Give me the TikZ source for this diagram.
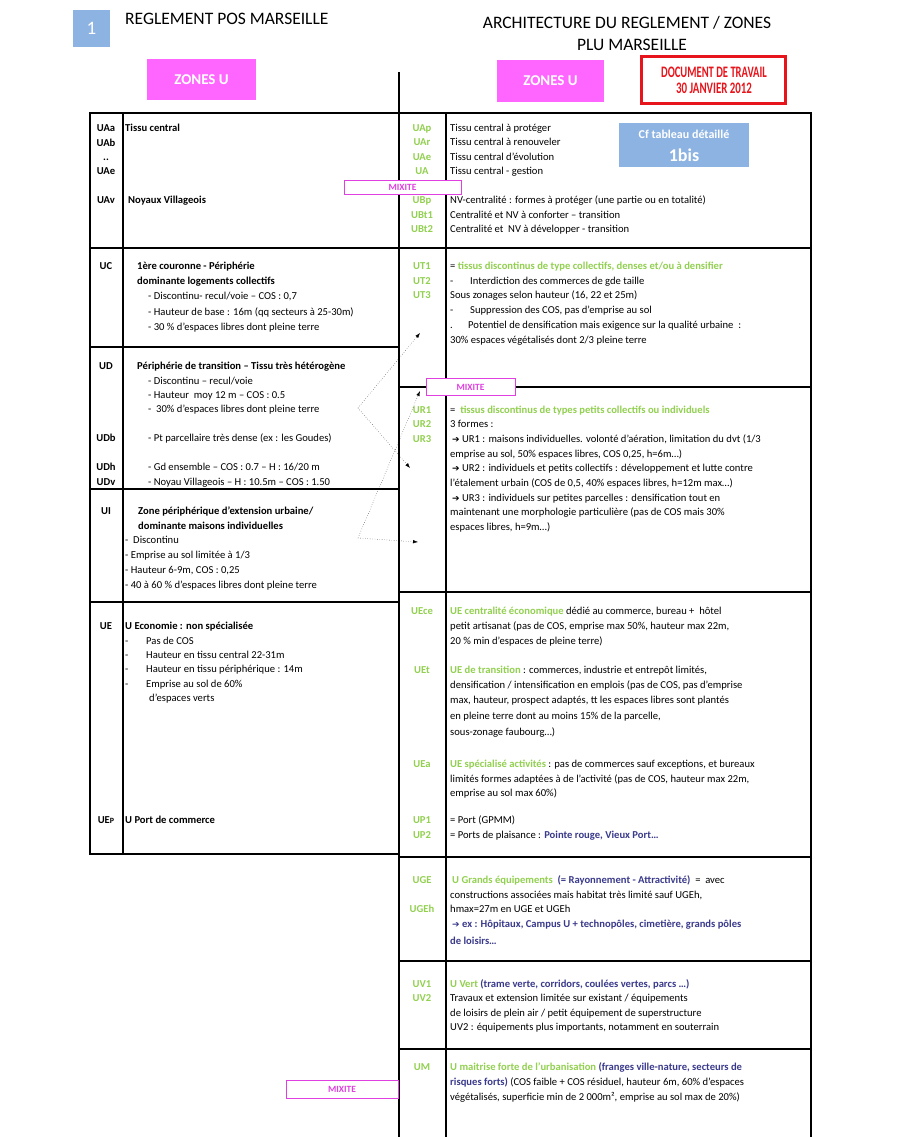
\documentclass[tikz,border=0pt]{standalone}
\usepackage{fontspec}
\setmainfont{Carlito}
\newfontfamily\arrowfont{DejaVu Sans}
\usetikzlibrary{arrows.meta, positioning}
\definecolor{zoneGreen}{HTML}{92D050}
\definecolor{zoneBlue}{HTML}{3A3A8C}
\definecolor{zonePink}{HTML}{FF66FF}
\definecolor{mixMagenta}{HTML}{E040E0}
\definecolor{tabBlue}{HTML}{8DB3E2}
\definecolor{workRed}{HTML}{E8141B}
\newcommand{\arr}{{\arrowfont\fontsize{9}{10}\selectfont ➔}}

\begin{document}
\begin{tikzpicture}[
    x=1pt, y=-1pt,
    every node/.style={font=\fontsize{10.6}{12}\selectfont},
    txt/.style={anchor=mid west, inner sep=0pt},
    btxt/.style={txt, font=\fontsize{10.6}{12}\selectfont\bfseries},
    code/.style={anchor=mid, inner sep=0pt, font=\fontsize{10.6}{12}\selectfont\bfseries},
    rcode/.style={code, text=zoneGreen},
    rule/.style={line width=2.4pt, line cap=rect},
    zonebox/.style={fill=zonePink, text=white, font=\fontsize{15}{16}\selectfont\bfseries},
    mixite/.style={draw=mixMagenta, fill=white, text=mixMagenta, line width=0.9pt,
      font=\fontsize{9.5}{10}\selectfont\bfseries, inner sep=0pt},
    hint/.style={dotted, thin, -{Latex[length=5pt, width=3.5pt]}},
    head/.style={font=\fontsize{17.5}{18}\selectfont}
  ]
  \useasboundingbox (0,0) rectangle (913,1137);
  \fill[white] (0,0) rectangle (913,1137);

  % ── Header ──────────────────────────────────────────────────────────────
  \node[fill=tabBlue, text=white, minimum width=37pt, minimum height=37pt,
    font=\fontsize{19}{20}\selectfont] (num) at (91.5,28.5) {1};
  \node[head, anchor=mid west, inner sep=0pt] (posTitle) at (125,22) {REGLEMENT POS MARSEILLE};
  \node[head, inner sep=0pt] (pluTitle) at (627,23) {ARCHITECTURE DU REGLEMENT / ZONES};
  \node[head, inner sep=0pt] (pluSub) at (632,45) {PLU MARSEILLE};
  \node[zonebox, minimum width=109pt, minimum height=41pt] (zonesPos) at (201.5,79.5) {ZONES U};
  \node[zonebox, minimum width=107pt, minimum height=42pt] (zonesPlu) at (550.5,81) {ZONES U};
  \node[draw=workRed, line width=3pt, minimum width=144pt, minimum height=47pt] (work) at (713.5,80) {};
  \node[text=workRed, inner sep=0pt, font=\fontsize{16}{16}\selectfont\bfseries] (workA) at (714,72)
    {\scalebox{0.66}[1]{DOCUMENT DE TRAVAIL}};
  \node[text=workRed, inner sep=0pt, font=\fontsize{16}{16}\selectfont\bfseries] (workB) at (714,88)
    {\scalebox{0.68}[1]{30 JANVIER 2012}};

  % ── Table lines ─────────────────────────────────────────────────────────
  \draw[line width=1.4pt] (399,72) -- (399,113);
  % POS (left)
  \draw[rule] (90,113) -- (90,854);
  \draw[rule] (123,113) -- (123,854);
  \foreach \y in {113, 248, 347, 489, 602, 854}
    \draw[rule] (90,\y) -- (399,\y);
  % PLU (right)
  \draw[rule] (399,113) -- (399,1137);
  \draw[rule] (446,113) -- (446,1137);
  \draw[rule] (811,113) -- (811,1137);
  \foreach \y in {113, 248, 387, 592, 857, 961, 1049}
    \draw[rule] (399,\y) -- (811,\y);

  % ── POS : UA ────────────────────────────────────────────────────────────
  \node[code] (lUAa) at (106,129) {UAa};
  \node[code] (lUAb) at (106,144) {UAb};
  \node[code] (lDots) at (106,158) {..};
  \node[code] (lUAe) at (106,172) {UAe};
  \node[code] (lUAv) at (106,201) {UAv};
  \node[btxt] (lUAaT) at (125,129) {Tissu central};
  \node[btxt] (lUAvT) at (128,201) {Noyaux Villageois};

  % ── POS : UC ────────────────────────────────────────────────────────────
  \node[code] (lUC) at (106,267) {UC};
  \node[btxt] (lUCT) at (137,267) {1ère couronne - Périphérie};
  \node[btxt] (lUC1) at (137,282) {dominante logements collectifs};
  \node[txt] (lUC2) at (148,297) {- Discontinu- recul/voie – COS : 0,7};
  \node[txt] (lUC3) at (148,313) {- Hauteur de base : 16m (qq secteurs à 25-30m)};
  \node[txt] (lUC4) at (148,328) {- 30 \% d’espaces libres dont pleine terre};

  % ── POS : UD ────────────────────────────────────────────────────────────
  \node[code] (lUD) at (106,367) {UD};
  \node[btxt] (lUDT) at (137,367) {Périphérie de transition – Tissu très hétérogène};
  \node[txt] (lUD1) at (148,382) {- Discontinu – recul/voie};
  \node[txt] (lUD2) at (148,396) {- Hauteur \ moy 12 m – COS : 0.5};
  \node[txt] (lUD3) at (148,410) {- \ 30\% d’espaces libres dont pleine terre};
  \node[code] (lUDb) at (106,439) {UDb};
  \node[txt] (lUDbT) at (148,439) {- Pt parcellaire très dense (ex : les Goudes)};
  \node[code] (lUDh) at (106,468) {UDh};
  \node[txt] (lUDhT) at (148,468) {- Gd ensemble – COS : 0.7 – H : 16/20 m};
  \node[code] (lUDv) at (106,483) {UDv};
  \node[txt] (lUDvT) at (148,483) {- Noyau Villageois – H : 10.5m – COS : 1.50};

  % ── POS : UI ────────────────────────────────────────────────────────────
  \node[code] (lUI) at (106,512) {UI};
  \node[btxt] (lUIT) at (138,512) {Zone périphérique d’extension urbaine/};
  \node[btxt] (lUI1) at (138,527) {dominante maisons individuelles};
  \node[txt] (lUI2) at (125,541) {- \ Discontinu};
  \node[txt] (lUI3) at (125,556) {- Emprise au sol limitée à 1/3};
  \node[txt] (lUI4) at (125,571) {- Hauteur 6-9m, COS : 0,25};
  \node[txt] (lUI5) at (125,586) {- 40 à 60 \% d’espaces libres dont pleine terre};

  % ── POS : UE ────────────────────────────────────────────────────────────
  \node[code] (lUE) at (106,627) {UE};
  \node[btxt] (lUET) at (125,627) {U Economie : non spécialisée};
  \node[txt] (lUE1d) at (125,642) {-};
  \node[txt] (lUE1) at (146,642) {Pas de COS};
  \node[txt] (lUE2d) at (125,656) {-};
  \node[txt] (lUE2) at (146,656) {Hauteur en tissu central 22-31m};
  \node[txt] (lUE3d) at (125,670) {-};
  \node[txt] (lUE3) at (146,670) {Hauteur en tissu périphérique : 14m};
  \node[txt] (lUE4d) at (125,685) {-};
  \node[txt] (lUE4) at (146,685) {Emprise au sol de 60\%};
  \node[txt] (lUE5) at (149,699) {d’espaces verts};
  \node[code] (lUEp) at (106,821) {UE{\fontsize{8}{9}\selectfont P}};
  \node[btxt] (lUEpT) at (125,821) {U Port de commerce};

  % ── PLU : UA / UB ───────────────────────────────────────────────────────
  \node[rcode] (rUAp) at (422,129) {UAp};
  \node[rcode] (rUAr) at (422,143) {UAr};
  \node[rcode] (rUAe) at (422,158) {UAe};
  \node[rcode] (rUA) at (422,172) {UA};
  \node[rcode] (rUBp) at (422,201) {UBp};
  \node[rcode] (rUBt1) at (422,216) {UBt1};
  \node[rcode] (rUBt2) at (422,230) {UBt2};
  \node[txt] (rUApT) at (450,129) {Tissu central à protéger};
  \node[txt] (rUArT) at (450,143) {Tissu central à renouveler};
  \node[txt] (rUAeT) at (450,158) {Tissu central d’évolution};
  \node[txt] (rUAT) at (450,172) {Tissu central - gestion};
  \node[txt] (rUBpT) at (450,201) {NV-centralité : formes à protéger (une partie ou en totalité)};
  \node[txt] (rUBt1T) at (450,216) {Centralité et NV à conforter – transition};
  \node[txt] (rUBt2T) at (450,230) {Centralité et \ NV à développer - transition};
  \node[fill=tabBlue, text=white, minimum width=130pt, minimum height=44pt] (cf) at (684,145) {};
  \node[text=white, inner sep=0pt, font=\fontsize{12}{13}\selectfont\bfseries] (cfA) at (684,134) {Cf tableau détaillé};
  \node[text=white, inner sep=0pt, font=\fontsize{18}{18}\selectfont\bfseries] (cfB) at (684,155) {1bis};

  % ── PLU : UT ────────────────────────────────────────────────────────────
  \node[rcode] (rUT1) at (422,267) {UT1};
  \node[rcode] (rUT2) at (422,282) {UT2};
  \node[rcode] (rUT3) at (422,296) {UT3};
  \node[txt] (rUT1T) at (450,267) {= \textcolor{zoneGreen}{\bfseries tissus discontinus de type collectifs, denses et/ou à densifier}};
  \node[txt] (rUT2d) at (450,282) {-};
  \node[txt] (rUT2T) at (470,282) {Interdiction des commerces de gde taille};
  \node[txt] (rUT3T) at (450,296) {Sous zonages selon hauteur (16, 22 et 25m)};
  \node[txt] (rUT4d) at (450,311) {-};
  \node[txt] (rUT4) at (470,311) {Suppression des COS, pas d’emprise au sol};
  \node[txt] (rUT5d) at (450,326) {.};
  \node[txt] (rUT5) at (468,326) {Potentiel de densification mais exigence sur la qualité urbaine \ :};
  \node[txt] (rUT6) at (450,341) {30\% espaces végétalisés dont 2/3 pleine terre};

  % ── PLU : UR ────────────────────────────────────────────────────────────
  \node[rcode] (rUR1) at (422,411) {UR1};
  \node[rcode] (rUR2) at (422,425) {UR2};
  \node[rcode] (rUR3) at (422,440) {UR3};
  \node[txt] (rUR1T) at (450,411) {= \ \textcolor{zoneGreen}{\bfseries tissus discontinus de types petits collectifs ou individuels}};
  \node[txt] (rUR2T) at (450,425) {3 formes :};
  \node[txt] (rUR3T) at (452,440) {\arr\ UR1 : maisons individuelles. volonté d’aération, limitation du dvt (1/3};
  \node[txt] (rUR4) at (450,455) {emprise au sol, 50\% espaces libres, COS 0,25, h=6m…)};
  \node[txt] (rUR5) at (452,469) {\arr\ UR2 : individuels et petits collectifs : développement et lutte contre};
  \node[txt] (rUR6) at (450,484) {l'étalement urbain (COS de 0,5, 40\% espaces libres, h=12m max…)};
  \node[txt] (rUR7) at (452,499) {\arr\ UR3 : individuels sur petites parcelles : densification tout en};
  \node[txt] (rUR8) at (450,513) {maintenant une morphologie particulière (pas de COS mais 30\%};
  \node[txt] (rUR9) at (450,528) {espaces libres, h=9m…)};

  % ── PLU : UE / UP ───────────────────────────────────────────────────────
  \node[rcode] (rUEce) at (422,612) {UEce};
  \node[txt] (rUEceT) at (450,612) {\textcolor{zoneGreen}{\bfseries UE centralité économique} dédié au commerce, bureau + \ hôtel};
  \node[txt] (rUEce1) at (450,627) {petit artisanat (pas de COS, emprise max 50\%, hauteur max 22m,};
  \node[txt] (rUEce2) at (450,642) {20 \% min d’espaces de pleine terre)};
  \node[rcode] (rUEt) at (422,671) {UEt};
  \node[txt] (rUEtT) at (450,671) {\textcolor{zoneGreen}{\bfseries UE de transition} : commerces, industrie et entrepôt limités,};
  \node[txt] (rUEt1) at (450,686) {densification / intensification en emplois (pas de COS, pas d’emprise};
  \node[txt] (rUEt2) at (450,701) {max, hauteur, prospect adaptés, tt les espaces libres sont plantés};
  \node[txt] (rUEt3) at (450,717) {en pleine terre dont au moins 15\% de la parcelle,};
  \node[txt] (rUEt4) at (450,733) {sous-zonage faubourg…)};
  \node[rcode] (rUEa) at (422,765) {UEa};
  \node[txt] (rUEaT) at (450,765) {\textcolor{zoneGreen}{\bfseries UE spécialisé activités} : pas de commerces sauf exceptions, et bureaux};
  \node[txt] (rUEa1) at (450,780) {limités formes adaptées à de l’activité (pas de COS, hauteur max 22m,};
  \node[txt] (rUEa2) at (450,794) {emprise au sol max 60\%)};
  \node[rcode] (rUP1) at (422,821) {UP1};
  \node[rcode] (rUP2) at (422,836) {UP2};
  \node[txt] (rUP1T) at (450,821) {= Port (GPMM)};
  \node[txt] (rUP2T) at (450,836) {= Ports de plaisance : \textcolor{zoneBlue}{\bfseries Pointe rouge, Vieux Port…}};

  % ── PLU : UGE ───────────────────────────────────────────────────────────
  \node[rcode] (rUGE) at (422,881) {UGE};
  \node[rcode] (rUGEh) at (422,910) {UGEh};
  \node[txt] (rUGET) at (452,881) {\textcolor{zoneGreen}{\bfseries U Grands équipements} \ \textcolor{zoneBlue}{\bfseries (= Rayonnement - Attractivité)} \ = \ avec};
  \node[txt] (rUGE1) at (450,896) {constructions associées mais habitat très limité sauf UGEh,};
  \node[txt] (rUGE2) at (450,910) {hmax=27m en UGE et UGEh};
  \node[txt, text=zoneBlue] (rUGE3) at (452,925) {\arr\ \bfseries ex : Hôpitaux, Campus U + technopôles, cimetière, grands pôles};
  \node[btxt, text=zoneBlue] (rUGE4) at (450,942) {de loisirs…};

  % ── PLU : UV ────────────────────────────────────────────────────────────
  \node[rcode] (rUV1) at (422,985) {UV1};
  \node[rcode] (rUV2) at (422,999) {UV2};
  \node[txt] (rUV1T) at (450,985) {\textcolor{zoneGreen}{\bfseries U Vert} \textcolor{zoneBlue}{\bfseries (trame verte, corridors, coulées vertes, parcs …)}};
  \node[txt] (rUV2T) at (450,999) {Travaux et extension limitée sur existant / équipements};
  \node[txt] (rUV3) at (450,1014) {de loisirs de plein air / petit équipement de superstructure};
  \node[txt] (rUV4) at (450,1028) {UV2 : équipements plus importants, notamment en souterrain};

  % ── PLU : UM ────────────────────────────────────────────────────────────
  \node[rcode] (rUM) at (422,1068) {UM};
  \node[txt] (rUMT) at (450,1068) {\textcolor{zoneGreen}{\bfseries U maitrise forte de l'urbanisation} \textcolor{zoneBlue}{\bfseries (franges ville-nature, secteurs de}};
  \node[txt] (rUM1) at (450,1083) {\textcolor{zoneBlue}{\bfseries risques forts)} (COS faible + COS résiduel, hauteur 6m, 60\% d'espaces};
  \node[txt] (rUM2) at (450,1098) {végétalisés, superficie min de 2 000m², emprise au sol max de 20\%)};

  % ── MIXITE tags ─────────────────────────────────────────────────────────
  \node[mixite, minimum width=117pt, minimum height=14pt] (mixA) at (402.5,187) {MIXITE};
  \node[mixite, minimum width=89pt, minimum height=17pt] (mixB) at (470.5,387) {MIXITE};
  \node[mixite, minimum width=112pt, minimum height=18pt] (mixC) at (342,1089) {MIXITE};

  % ── Dotted hints from POS to PLU ────────────────────────────────────────
  \coordinate (udTip) at (358,408);
  \coordinate (uiTip) at (358,538);
  \coordinate (toUT) at (420,333);
  \coordinate (toURa) at (410,468);
  \coordinate (toMix) at (420,391);
  \coordinate (toURb) at (418,542);
  \draw[hint] (udTip) -- (toUT);
  \draw[hint] (udTip) -- (toURa);
  \draw[hint] (uiTip) -- (toMix);
  \draw[hint] (uiTip) -- (toURb);

\end{tikzpicture}
\end{document}
